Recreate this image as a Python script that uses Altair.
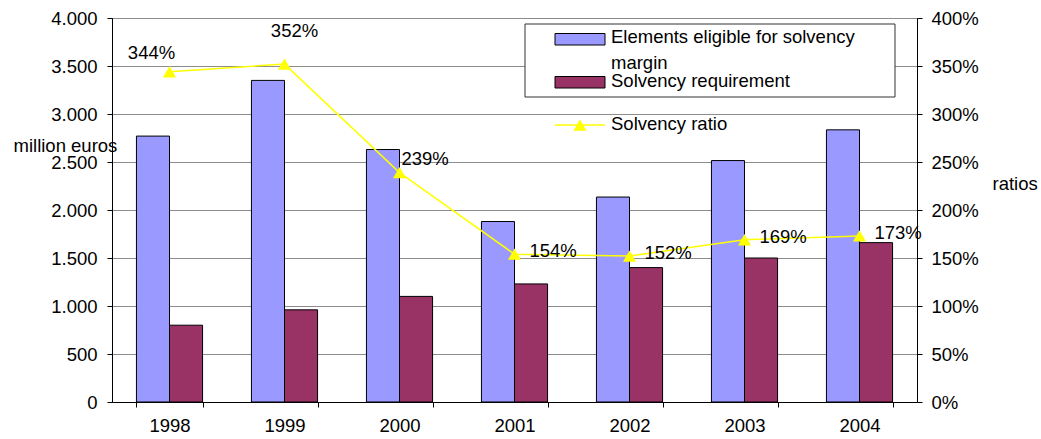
import altair as alt
import pandas as pd

# ---- data -------------------------------------------------------------
years = ["1998", "1999", "2000", "2001", "2002", "2003", "2004"]
eligible = [2770, 3350, 2630, 1880, 2135, 2515, 2835]        # million euros
requirement = [800, 960, 1100, 1230, 1400, 1500, 1660]       # million euros
ratio = [3.44, 3.52, 2.39, 1.54, 1.52, 1.69, 1.73]           # solvency ratio
series_names = ["Elements eligible for solvency margin", "Solvency requirement"]
ratio_name = "Solvency ratio"
left_ticks = [0, 500, 1000, 1500, 2000, 2500, 3000, 3500, 4000]
right_ticks = [0, 0.5, 1, 1.5, 2, 2.5, 3, 3.5, 4]

bars_df = pd.DataFrame({
    "year": years * 2,
    "series": [series_names[0]] * len(years) + [series_names[1]] * len(years),
    "value": eligible + requirement,
})
ratio_df = pd.DataFrame({"year": years, "ratio": ratio})

# ---- style ------------------------------------------------------------
FONT = "Liberation Sans"
FS = 18.5
BLUE = "#9999FF"
PLUM = "#993366"
YELLOW = "#FFFF00"
W, H = 805, 384
LEFT, TOP = 112, 18

color_scale = alt.Scale(domain=series_names, range=[BLUE, PLUM])

x_enc = alt.X(
    "year:N", sort=years,
    scale=alt.Scale(paddingInner=0.425, paddingOuter=0.2125),
    axis=alt.Axis(title=None, labelAngle=0, tickBand="extent", tickExtra=True,
                  tickSize=5, labelPadding=9, grid=False),
)

left_y = alt.Y(
    "value:Q",
    scale=alt.Scale(domain=[0, 4000], nice=False, zero=True),
    axis=alt.Axis(
        orient="left", values=left_ticks,
        labelExpr="replace(format(datum.value, ','), ',', '.')",
        title="million euros", titleAngle=0, titleAlign="left",
        titleBaseline="middle", titleX=-99, titleY=127,
        grid=True, gridColor="#8c8c8c", gridWidth=1,
        tickSize=5, labelPadding=10,
    ),
)

right_y = alt.Y(
    "ratio:Q",
    scale=alt.Scale(domain=[0, 4], nice=False, zero=True),
    axis=alt.Axis(
        orient="right", values=right_ticks, format=".0%",
        title="ratios", titleAngle=0, titleAlign="left",
        titleBaseline="middle", titleX=75, titleY=165,
        grid=False, tickSize=5, labelPadding=9,
    ),
)

# ---- bars -------------------------------------------------------------
bars = alt.Chart(bars_df).mark_bar(stroke="black", strokeWidth=1).encode(
    x=x_enc,
    xOffset=alt.XOffset("series:N", sort=series_names),
    y=left_y,
    color=alt.Color("series:N", scale=color_scale, legend=None),
)

# ---- ratio line with labels -------------------------------------------
ratio_base = alt.Chart(ratio_df).encode(x=x_enc, y=right_y)
line = ratio_base.mark_line(color=YELLOW, strokeWidth=1.5)
points = ratio_base.mark_point(shape="triangle-up", filled=True, size=170,
                               color=YELLOW, opacity=1)

label_text = alt.Text("ratio:Q", format=".0%")
text_style = dict(font=FONT, fontSize=FS, color="black", baseline="middle")

labels_right = ratio_base.mark_text(align="left", dx=15, dy=-3, **text_style).encode(
    text=label_text
).transform_filter(alt.FieldOneOfPredicate(field="year", oneOf=years[3:]))
label_2000 = ratio_base.mark_text(align="left", dx=2, dy=-14, **text_style).encode(
    text=label_text
).transform_filter(alt.FieldEqualPredicate(field="year", equal="2000"))
label_1998 = ratio_base.mark_text(align="center", dx=-18, dy=-19, **text_style).encode(
    text=label_text
).transform_filter(alt.FieldEqualPredicate(field="year", equal="1998"))
label_1999 = ratio_base.mark_text(align="center", dx=10, dy=-33, **text_style).encode(
    text=label_text
).transform_filter(alt.FieldEqualPredicate(field="year", equal="1999"))

ratio_layer = alt.layer(line, points, labels_right, label_2000, label_1998, label_1999)

# ---- legend -----------------------------------------------------------
def px(x):
    return alt.value(x - LEFT)


def py(y):
    return alt.value(y - TOP)


legend_box = alt.Chart(pd.DataFrame({"name": series_names[:1]})).mark_rect(
    fill="white", stroke="#333333", strokeWidth=1
).encode(x=px(525), x2=px(895), y=py(24), y2=py(97))

sw_elig = alt.Chart(pd.DataFrame({"name": [series_names[0]]})).mark_rect(
    stroke="black", strokeWidth=1
).encode(x=px(555), x2=px(605), y=py(33.5), y2=py(45),
         fill=alt.Color("name:N", scale=color_scale, legend=None))
sw_req = alt.Chart(pd.DataFrame({"name": [series_names[1]]})).mark_rect(
    stroke="black", strokeWidth=1
).encode(x=px(555), x2=px(605), y=py(76.5), y2=py(88),
         fill=alt.Color("name:N", scale=color_scale, legend=None))

legend_text_style = dict(font=FONT, fontSize=FS, color="black", align="left",
                         baseline="middle")
txt_elig = alt.Chart(pd.DataFrame({"name": [series_names[0]]})).transform_calculate(
    wrapped="replace(datum.name, ' margin', '\\nmargin')"
).mark_text(lineBreak="\n", lineHeight=26, **legend_text_style).encode(
    x=px(611), y=py(37), text="wrapped:N")
txt_req = alt.Chart(pd.DataFrame({"name": [series_names[1]]})).mark_text(
    **legend_text_style).encode(x=px(611), y=py(81), text="name:N")

ratio_key_df = pd.DataFrame({"name": [ratio_name]})
key_line = alt.Chart(ratio_key_df).mark_rule(color=YELLOW, strokeWidth=1.5).encode(
    x=px(555), x2=px(605), y=py(125))
key_point = alt.Chart(ratio_key_df).mark_point(
    shape="triangle-up", filled=True, size=170, color=YELLOW, opacity=1
).encode(x=px(580), y=py(125))
txt_ratio = alt.Chart(ratio_key_df).mark_text(**legend_text_style).encode(
    x=px(611), y=py(124), text="name:N")

legend_layer = alt.layer(legend_box, sw_elig, sw_req, txt_elig, txt_req,
                         key_line, key_point, txt_ratio)

# ---- compose ----------------------------------------------------------
chart = alt.layer(bars, ratio_layer, legend_layer).resolve_scale(
    y="independent"
).properties(
    width=W, height=H,
    autosize=alt.AutoSizeParams(type="none"),
    padding={"left": LEFT, "top": TOP, "right": 1041 - LEFT - W, "bottom": 439 - TOP - H},
    background="white",
).configure_view(
    stroke="black", strokeWidth=1
).configure_axis(
    labelFont=FONT, labelFontSize=FS, labelColor="black",
    titleFont=FONT, titleFontSize=FS, titleColor="black", titleFontWeight="normal",
    domainColor="black", domainWidth=1, tickColor="black", tickWidth=1,
)

chart.save("out.html", embed_options={"renderer": "svg", "actions": False})
